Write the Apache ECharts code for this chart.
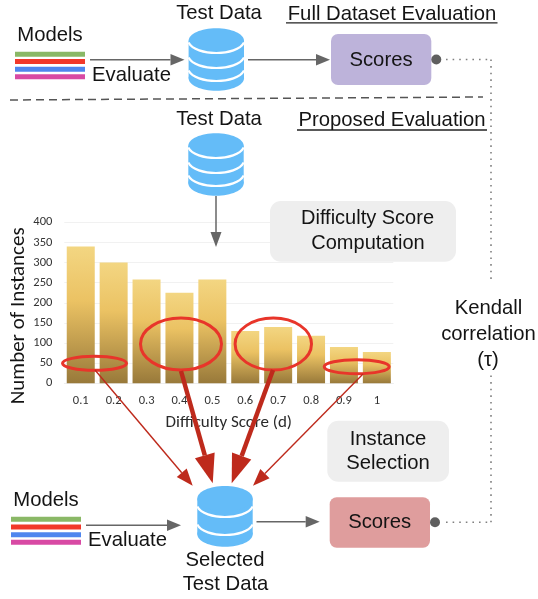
<!DOCTYPE html>
<html><head><meta charset="utf-8">
<style>html,body{margin:0;padding:0;background:#fff}#c{width:538px;height:599px}</style>
<script src="https://cdn.jsdelivr.net/npm/echarts@6/dist/echarts.min.js"></script>
</head><body><div id="c"></div>
<script>
const categories = ['0.1','0.2','0.3','0.4','0.5','0.6','0.7','0.8','0.9','1'];
const instanceCounts = [340,300,258,225,258,130,140,118,90,78];
const yTicks = {min:0,max:400,interval:50};
const modelColors = ['#8AB866','#F1382A','#4F86EE','#D84AA4'];

const SANS='"Liberation Sans",Arial,sans-serif', CAL='Carlito,Lato,"Open Sans",sans-serif';
const GRAY='#666666', DB='#64BCF8', RED='#BE2A1C', ELL='#E8352A', FS=20.3;
const g=[];
function txt(s,x,y,o={}){g.push({type:'text',z:o.z||20,x,y,style:{text:s,x:0,y:0,fill:o.fill||'#141414',font:(o.size||FS)+'px '+(o.fam||SANS),textAlign:o.align||'center',textVerticalAlign:'middle'}});}
function line(x1,y1,x2,y2,o={}){g.push({type:'line',z:o.z||10,shape:{x1,y1,x2,y2},style:{stroke:o.c||GRAY,lineWidth:o.w||1.5,lineDash:o.dash||null}});}
function arrow(x1,y1,x2,y2,o={}){
  const L=Math.hypot(x2-x1,y2-y1),ux=(x2-x1)/L,uy=(y2-y1)/L,h=o.hl||14,hw=(o.hw||11.5)/2;
  const bx=x2-ux*h,by=y2-uy*h;
  line(x1,y1,bx,by,{c:o.c,w:o.w,z:o.z});
  g.push({type:'polygon',z:o.z||10,shape:{points:[[x2,y2],[bx-uy*hw,by+ux*hw],[bx+uy*hw,by-ux*hw]]},style:{fill:o.c||GRAY}});
}
function rrect(x,y,w,h,r,fill,z){g.push({type:'rect',z:z||5,shape:{x,y,width:w,height:h,r},style:{fill}});}
function db(cx,top,bottom,curves){
  const rx=27.7,ry=12.5;
  g.push({type:'ellipse',z:8,shape:{cx,cy:bottom-ry,rx,ry},style:{fill:DB}});
  g.push({type:'rect',z:8,shape:{x:cx-rx,y:top+ry,width:2*rx,height:bottom-top-2*ry},style:{fill:DB}});
  g.push({type:'ellipse',z:8,shape:{cx,cy:top+ry,rx,ry},style:{fill:DB}});
  curves.forEach(low=>{
    const y=low-10.5;
    g.push({type:'bezierCurve',z:9,shape:{x1:cx-rx,y1:y,x2:cx+rx,y2:y,cpx1:cx-rx+7,cpy1:y+14,cpx2:cx+rx-7,cpy2:y+14},style:{stroke:'#fff',lineWidth:2.2,fill:null}});
  });
}
function models(tx,ty,x,w,ys){
  txt('Models',tx,ty);
  modelColors.forEach((c,i)=>g.push({type:'rect',z:8,shape:{x,y:ys[i],width:w,height:5},style:{fill:c}}));
}
function ell(cx,cy,rx,ry){g.push({type:'ellipse',z:12,shape:{cx,cy,rx,ry},style:{fill:null,stroke:ELL,lineWidth:3}});}
const dots={c:'#808080',w:1.6,dash:[1.6,5]};

/* top row */
txt('Test Data',219,13.5);
txt('Full Dataset Evaluation',392,14);line(286,22.8,497.5,22.8,{c:'#222',w:1.3});
models(50,35,15,70,[51.7,59,66.7,74.3]);
arrow(90,59.7,184.5,59.7);
txt('Evaluate',92,75,{align:'left'});
db(216.3,28.3,90.7,[53,68,81]);
arrow(248,59.7,330,59.7);
rrect(331,34,100.3,51,7,'#BDB3DA');
txt('Scores',381,60);
g.push({type:'circle',z:10,shape:{cx:436.3,cy:59.5,r:5},style:{fill:'#5f5f5f'}});
line(446,59.5,491,59.5,dots);
line(491,59.5,491,280,dots);
line(10,100,483,97,{c:'#555',w:1.5,dash:[8,5]});

/* middle */
txt('Test Data',219,119);
txt('Proposed Evaluation',392,120.7);line(297,130,487,130,{c:'#222',w:1.3});
db(216,133.3,195.7,[158,173,186]);
arrow(216,196,216,247,{hl:15,hw:11});
rrect(270,201,186,60.7,11,'#EEEEEE');
txt('Difficulty Score',367.5,218,{size:20});txt('Computation',368,243.5,{size:20});

/* selection marks */
ell(94.5,363.3,32,7);ell(181,344,40.5,26);ell(273.3,344,38.2,26);ell(356.7,366.7,32.5,7);
arrow(95,370,192.7,485.7,{c:RED,w:1.4,hl:17,hw:13,z:13});
arrow(181,371,212.7,483.3,{c:RED,w:4.5,hl:29,hw:20.5,z:13});
arrow(273,370,231.7,483.3,{c:RED,w:4.5,hl:29,hw:20.5,z:13});
arrow(363,374,253,485.7,{c:RED,w:1.4,hl:17,hw:13,z:13});

/* bottom */
rrect(327.3,420.7,121.7,61,11,'#EEEEEE');
txt('Instance',388,439);txt('Selection',388,463.7);
models(46,500.7,11,70,[516.8,524.5,532.2,539.8]);
arrow(86,525.3,181,525.3);
txt('Evaluate',88,540.7,{align:'left'});
db(225,486,546.7,[517,535]);
arrow(256.5,521.7,319.7,521.7);
rrect(329.7,497.3,100.3,50.4,7,'#DF9D9D');
txt('Scores',379.7,522.3);
g.push({type:'circle',z:10,shape:{cx:435,cy:522.3,r:5},style:{fill:'#5f5f5f'}});
line(446,522.3,491,522.3,dots);
line(491,522.3,491,373,dots);
txt('Selected',225,560);txt('Test Data',225.5,584);
txt('Kendall',488.5,308);txt('correlation',488.5,334);txt('(\u03c4)',488,360);

const chart=echarts.init(document.getElementById('c'),null,{renderer:'canvas'});
chart.setOption({
  animation:false,
  backgroundColor:'#fff',
  grid:{left:64.3,top:222.3,width:329,height:161,containLabel:false,outerBoundsMode:'none'},
  xAxis:{type:'category',data:categories,
    axisLine:{show:true,lineStyle:{color:'#EDEDED',width:1}},axisTick:{show:false},
    axisLabel:{color:'#333',fontFamily:CAL,fontSize:12.5,margin:11},
    name:'Difficulty Score (d)',nameLocation:'middle',nameGap:31,nameMoveOverlap:false,
    nameTextStyle:{color:'#2a2a2a',fontFamily:CAL,fontSize:17}},
  yAxis:{type:'value',min:yTicks.min,max:yTicks.max,interval:yTicks.interval,
    axisLine:{show:false},axisTick:{show:false},
    splitLine:{lineStyle:{color:'#F1F1F1',width:1}},
    axisLabel:{color:'#333',fontFamily:CAL,fontSize:12.5,margin:12},
    name:'Number of Instances',nameLocation:'middle',nameGap:35,nameRotate:90,nameMoveOverlap:false,
    nameTextStyle:{color:'#141414',fontFamily:CAL,fontSize:21,padding:[0,26,0,0]}},
  series:[{type:'bar',data:instanceCounts,barWidth:28,
    itemStyle:{color:new echarts.graphic.LinearGradient(0,0,0,1,[
      {offset:0,color:'#F3D682'},{offset:.4,color:'#EBC263'},{offset:1,color:'#98793A'}])}}],
  graphic:{elements:g}
});
</script></body></html>
